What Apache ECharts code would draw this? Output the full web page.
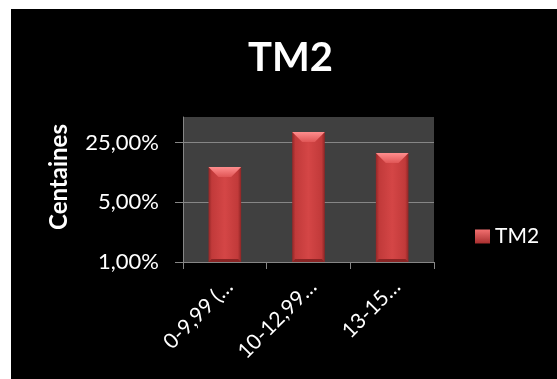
<!DOCTYPE html>
<html>
<head>
<meta charset="utf-8">
<script src="https://cdn.jsdelivr.net/npm/echarts@6/dist/echarts.min.js"></script>
<style>
  html, body { margin: 0; padding: 0; background: #fff; }
  #frame { position: absolute; left: 11px; top: 9px; width: 546px; height: 370px; background: #000; }
  #chart { position: absolute; left: 0; top: 0; width: 557px; height: 379px; }
</style>
</head>
<body>
<div id="frame"></div>
<div id="chart"></div>
<script>
// Category labels as shown under the axis (truncated by the source sheet)
const categories = ['0-9,99 (…', '10-12,99…', '13-15…'];
const seriesName = 'TM2';
// Values in percent
const tm2Values = [13.0, 33.4, 18.9];
// Log axis (base 5) range and tick positions, in percent
const yMin = 1;
const yMax = 50;
const yTickValues = [1, 5, 25];

const fmtPct = v => Number(v).toFixed(2).replace('.', ',') + '%';

const FONT = 'Lato';
const AXIS_GREY = '#868686';

const bodyFill = {
  type: 'linear', x: 0, y: 0, x2: 1, y2: 0,
  colorStops: [
    { offset: 0, color: '#932727' },
    { offset: 0.1, color: '#c13a3a' },
    { offset: 0.5, color: '#d44646' },
    { offset: 0.9, color: '#c13a3a' },
    { offset: 1, color: '#8e2525' }
  ]
};
const topFill = {
  type: 'linear', x: 0, y: 0, x2: 0, y2: 1,
  colorStops: [
    { offset: 0, color: '#ff8e8e' },
    { offset: 1, color: '#e05656' }
  ]
};

// Bevelled column: body, lighter top facet and a darker bottom lip
function renderBevelBar(params, api) {
  const cat = api.value(0);
  const val = api.value(1);
  const top = api.coord([cat, val]);
  const base = api.coord([cat, yMin]);
  const band = api.size([1, 0])[0];
  const w = band * 0.39;
  const x0 = top[0] - w / 2, x1 = top[0] + w / 2;
  const y0 = top[1], y1 = base[1];
  const bev = Math.min(10, (y1 - y0) / 2, w / 2 - 2);
  return {
    type: 'group',
    children: [
      { type: 'rect', shape: { x: x0, y: y0, width: w, height: y1 - y0 }, style: { fill: bodyFill } },
      { type: 'polygon', shape: { points: [[x0, y0], [x1, y0], [x1 - bev, y0 + bev], [x0 + bev, y0 + bev]] }, style: { fill: topFill } },
      { type: 'polygon', shape: { points: [[x0, y1], [x1, y1], [x1 - 3, y1 - 3], [x0 + 3, y1 - 3]] }, style: { fill: '#8a2424' } }
    ]
  };
}

const chart = echarts.init(document.getElementById('chart'), null, { renderer: 'canvas' });
chart.setOption({
  animation: false,
  backgroundColor: 'transparent',
  title: {
    text: 'TM2',
    left: 248,
    top: 38,
    padding: 0,
    textStyle: { color: '#fff', fontFamily: FONT, fontWeight: 'bold', fontSize: 40 }
  },
  legend: {
    orient: 'vertical',
    left: 475,
    top: 226,
    padding: 0,
    itemWidth: 15,
    itemHeight: 14,
    textStyle: { color: '#fff', fontFamily: FONT, fontSize: 21 },
    data: [{
      name: seriesName,
      icon: 'rect',
      itemStyle: {
        color: {
          type: 'linear', x: 0, y: 0, x2: 0, y2: 1,
          colorStops: [{ offset: 0, color: '#f27070' }, { offset: 1, color: '#a82f2f' }]
        }
      }
    }]
  },
  grid: { left: 183, right: 123, top: 117, bottom: 117, show: true, backgroundColor: '#404040', borderWidth: 0, outerBoundsMode: 'none' },
  xAxis: {
    type: 'category',
    data: categories,
    boundaryGap: true,
    axisLine: { show: true, lineStyle: { color: AXIS_GREY, width: 1 } },
    axisTick: { show: true, length: 7, lineStyle: { color: AXIS_GREY } },
    axisLabel: {
      color: '#fff', fontFamily: FONT, fontSize: 21, rotate: 45, interval: 0,
      margin: 4, verticalAlign: 'top', padding: [5, 9, 0, 0]
    },
    splitLine: { show: false }
  },
  yAxis: {
    type: 'log',
    logBase: 5,
    min: yMin,
    max: yMax,
    name: 'Centaines',
    nameLocation: 'middle',
    nameRotate: 90,
    nameGap: 112,
    nameTextStyle: { color: '#fff', fontFamily: FONT, fontWeight: 'bold', fontSize: 24, padding: [0, 0, 0, 25] },
    axisLine: { show: true, lineStyle: { color: AXIS_GREY, width: 1 } },
    axisTick: { show: true, length: 8, lineStyle: { color: AXIS_GREY }, customValues: yTickValues },
    axisLabel: { color: '#fff', fontFamily: FONT, fontSize: 22, margin: 24, formatter: fmtPct, customValues: yTickValues },
    splitLine: { show: true, lineStyle: { color: AXIS_GREY, width: 1 } }
  },
  series: [{
    type: 'custom',
    name: seriesName,
    renderItem: renderBevelBar,
    encode: { x: 0, y: 1 },
    itemStyle: { color: '#cc4040' },
    data: categories.map((c, i) => [i, tm2Values[i]])
  }]
});
</script>
</body>
</html>
